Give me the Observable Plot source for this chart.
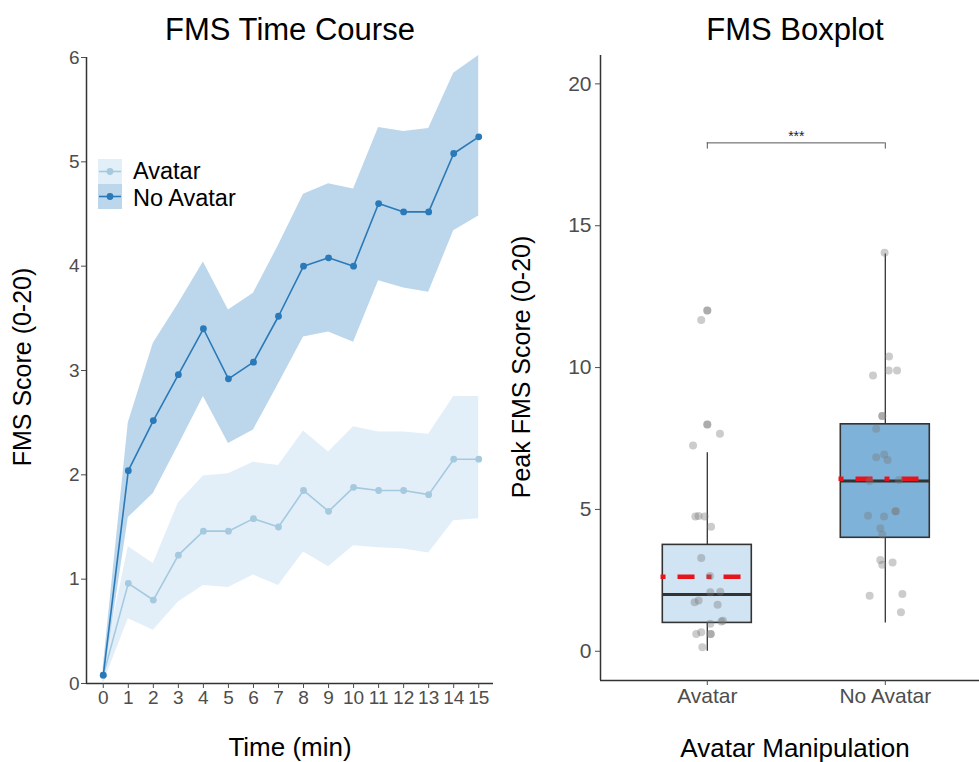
<!DOCTYPE html>
<html>
<head>
<meta charset="utf-8">
<script src="https://cdn.jsdelivr.net/npm/d3@7"></script>
<script src="https://cdn.jsdelivr.net/npm/@observablehq/plot@0.6"></script>
<style>
  body { margin: 0; background: #fff; font-family: "Liberation Sans", Arial, sans-serif; }
  #wrap { position: relative; width: 979px; height: 762px; overflow: hidden; background: #fff; }
  .abs { position: absolute; white-space: nowrap; line-height: 1; color: #000; }
  .ctr { transform: translateX(-50%); }
  .rot { transform: translate(-50%, -50%) rotate(-90deg); }
  #left, #right { position: absolute; top: 0; }
  #left { left: 0; }
  #right { left: 500px; }
  .sw { position: absolute; }
</style>
</head>
<body>
<div id="wrap">
  <div id="left"></div>
  <div id="right"></div>
</div>
<script>
// ---------------- Data: FMS time course ----------------
const timeMin = [0,1,2,3,4,5,6,7,8,9,10,11,12,13,14,15];
const avatarMean  = [0.08,0.96,0.80,1.23,1.46,1.46,1.58,1.50,1.85,1.65,1.88,1.85,1.85,1.81,2.15,2.15];
const avatarLower = [0.00,0.62,0.51,0.78,0.94,0.92,1.04,0.94,1.26,1.12,1.32,1.30,1.29,1.25,1.56,1.58];
const avatarUpper = [0.16,1.31,1.15,1.73,1.99,2.01,2.12,2.09,2.42,2.22,2.46,2.41,2.41,2.39,2.75,2.75];
const noAvatarMean  = [0.08,2.04,2.52,2.96,3.40,2.92,3.08,3.52,4.00,4.08,4.00,4.60,4.52,4.52,5.08,5.24];
const noAvatarLower = [0.00,1.59,1.82,2.28,2.75,2.30,2.43,2.87,3.32,3.37,3.27,3.86,3.79,3.75,4.34,4.48];
const noAvatarUpper = [0.16,2.50,3.26,3.64,4.04,3.58,3.74,4.20,4.69,4.79,4.74,5.33,5.29,5.32,5.85,6.02];
const timeTicks = [0,1,2,3,4,5,6,7,8,9,10,11,12,13,14,15];
const scoreTicks = [0,1,2,3,4,5,6];
const seriesNames = ["Avatar", "No Avatar"];

// ---------------- Data: FMS boxplot ----------------
const groups = ["Avatar", "No Avatar"];
const boxLow    = [0, 1];      // lower whisker
const boxQ1     = [1, 4];
const boxMedian = [2, 6];
const boxQ3     = [3.75, 8];
const boxHigh   = [7, 14];     // upper whisker
const boxMean   = [2.63, 6.08];
const peakTicks = [0, 5, 10, 15, 20];
// individual (jittered) points: value and horizontal jitter
const avatarPeak   = [12.01,12.01,11.68,7.99,7.99,7.67,7.25,4.75,4.77,4.75,4.39,3.29,2.65,2.08,2.10,1.73,1.79,1.64,1.08,1.05,0.97,0.61,0.67,0.61,0.61,0.14];
const avatarJitter = [0.000,0.000,-0.034,0.000,0.000,0.071,-0.080,-0.067,-0.049,-0.015,0.021,-0.034,0.015,0.017,0.073,-0.071,-0.049,0.058,0.088,0.079,0.017,-0.062,-0.034,0.019,0.019,-0.028];
const noAvatarPeak   = [14.05,10.39,9.90,9.90,9.72,8.29,8.29,7.84,6.84,6.94,6.74,6.00,6.04,4.78,4.75,4.94,4.94,4.34,4.12,3.22,3.05,3.13,1.96,2.02,1.38];
const noAvatarJitter = [-0.004,0.021,0.019,0.066,-0.069,-0.017,-0.017,-0.051,-0.051,-0.006,0.013,-0.088,0.077,-0.097,-0.007,0.058,0.058,-0.028,-0.017,-0.028,-0.017,0.041,-0.088,0.096,0.088];
const bracketY = 17.92;
const bracketTick = 17.7;
const sigLabel = "***";

// ---------------- Styles ----------------
const colLine = { "Avatar": "#a5c9de", "No Avatar": "#2a79b8" };
const colBand = { "Avatar": "#e2eff9", "No Avatar": "#bcd7ec" };
const boxFill = ["#d0e4f3", "#7fb2d9"];
const ink = "#333333";
const tickText = "#4d4d4d";

// ---------------- Left: time course ----------------
const tc = [];
timeMin.forEach((t, i) => {
  tc.push({series: "Avatar", t, mean: avatarMean[i], lo: avatarLower[i], hi: avatarUpper[i]});
});
timeMin.forEach((t, i) => {
  tc.push({series: "No Avatar", t, mean: noAvatarMean[i], lo: noAvatarLower[i], hi: noAvatarUpper[i]});
});
const av = tc.filter(d => d.series === "Avatar");
const na = tc.filter(d => d.series === "No Avatar");
const xDom = [-0.67, 15.59];

const left = Plot.plot({
  width: 500, height: 762,
  marginLeft: 86, marginRight: 7, marginTop: 57, marginBottom: 79,
  style: { fontFamily: "Liberation Sans, Arial, sans-serif", background: "transparent" },
  x: { domain: xDom },
  y: { domain: [0, 6] },
  marks: [
    Plot.areaY(av, { x: "t", y1: "lo", y2: "hi", fill: colBand["Avatar"] }),
    Plot.areaY(na, { x: "t", y1: "lo", y2: "hi", fill: colBand["No Avatar"] }),
    Plot.line(av, { x: "t", y: "mean", stroke: colLine["Avatar"], strokeWidth: 1.6 }),
    Plot.dot(av, { x: "t", y: "mean", fill: colLine["Avatar"], r: 3.4 }),
    Plot.line(na, { x: "t", y: "mean", stroke: colLine["No Avatar"], strokeWidth: 1.6 }),
    Plot.dot(na, { x: "t", y: "mean", fill: colLine["No Avatar"], r: 3.4 }),
    Plot.ruleX([xDom[0]], { stroke: ink, strokeWidth: 1.5 }),
    Plot.ruleY([0], { stroke: ink, strokeWidth: 1.5 }),
    Plot.axisY({ ticks: scoreTicks, tickSize: 5, tickPadding: 2, fontSize: 19, color: tickText, label: null, tickFormat: d => String(d) }),
    Plot.axisX({ ticks: timeTicks, tickSize: 5, tickPadding: 2, fontSize: 19, color: tickText, label: null, tickFormat: d => String(d) })
  ]
});
document.getElementById("left").appendChild(left);

// ---------------- Right: boxplot ----------------
const boxes = groups.map((g, i) => ({
  g, xi: i + 1, low: boxLow[i], q1: boxQ1[i], med: boxMedian[i], q3: boxQ3[i], high: boxHigh[i], mean: boxMean[i], fill: boxFill[i]
}));
const pts = [
  ...avatarPeak.map((v, k) => ({ x: 1 + avatarJitter[k], y: v })),
  ...noAvatarPeak.map((v, k) => ({ x: 2 + noAvatarJitter[k], y: v }))
];
const halfBox = 0.25;
const xDomR = [0.4, 2.6];
const yDomR = [-1.03, 21.0];

const right = Plot.plot({
  width: 479, height: 762,
  marginLeft: 100, marginRight: 0, marginTop: 55, marginBottom: 82,
  style: { fontFamily: "Liberation Sans, Arial, sans-serif", background: "transparent" },
  x: { domain: xDomR, range: [100, 491.6] },
  y: { domain: yDomR },
  marks: [
    // whiskers
    Plot.ruleX(boxes, { x: "xi", y1: "q3", y2: "high", stroke: ink, strokeWidth: 1.3 }),
    Plot.ruleX(boxes, { x: "xi", y1: "low", y2: "q1", stroke: ink, strokeWidth: 1.3 }),
    // boxes
    Plot.rect(boxes, { x1: d => d.xi - halfBox, x2: d => d.xi + halfBox, y1: "q1", y2: "q3", fill: "fill", stroke: ink, strokeWidth: 1.6 }),
    // median
    Plot.ruleY(boxes, { x1: d => d.xi - halfBox, x2: d => d.xi + halfBox, y: "med", stroke: ink, strokeWidth: 3 }),
    // mean (red dashed)
    Plot.ruleY(boxes, { x1: d => d.xi - halfBox - 0.01, x2: d => d.xi + halfBox, y: "mean", stroke: "#e8141c", strokeWidth: 4.5, strokeDasharray: "5,12,17,12" }),
    // jittered points
    Plot.dot(pts, { x: "x", y: "y", r: 4, fill: "#7a7a7a", fillOpacity: 0.38 }),
    // significance bracket
    Plot.ruleY([bracketY], { x1: 1, x2: 2, stroke: "#555", strokeWidth: 1 }),
    Plot.ruleX([1, 2], { y1: bracketTick, y2: bracketY, stroke: "#555", strokeWidth: 1 }),
    Plot.text([sigLabel], { x: 1.5, y: bracketY, text: d => d, dy: -6, fontSize: 14, fill: "#222" }),
    // axes
    Plot.ruleX([xDomR[0]], { stroke: ink, strokeWidth: 1.5 }),
    Plot.ruleY([yDomR[0]], { stroke: ink, strokeWidth: 1.5 }),
    Plot.axisY({ ticks: peakTicks, tickSize: 5, tickPadding: 4, fontSize: 21, color: tickText, label: null, tickFormat: d => String(d) }),
    Plot.axisX({ ticks: [1, 2], tickSize: 5, tickPadding: 3, fontSize: 21, color: tickText, label: null, tickFormat: d => groups[d - 1] })
  ]
});
document.getElementById("right").appendChild(right);

// ---------------- Titles, axis titles, legend (HTML around the SVGs) ----------------
const wrap = document.getElementById("wrap");
function addText(txt, css, cls) {
  const el = document.createElement("div");
  el.className = "abs " + (cls || "");
  el.textContent = txt;
  Object.assign(el.style, css);
  wrap.appendChild(el);
  return el;
}
addText("FMS Time Course", { left: "290px", top: "14px", fontSize: "31px" }, "ctr");
addText("FMS Boxplot", { left: "795px", top: "14px", fontSize: "31px" }, "ctr");
addText("Time (min)", { left: "290px", top: "735px", fontSize: "26px", lineHeight: "25px" }, "ctr");
addText("Avatar Manipulation", { left: "795px", top: "736px", fontSize: "26px", lineHeight: "25px" }, "ctr");
addText("FMS Score (0-20)", { left: "22px", top: "367px", fontSize: "25px" }, "rot");
addText("Peak FMS Score (0-20)", { left: "521px", top: "367px", fontSize: "25px" }, "rot");

// legend
seriesNames.forEach((s, i) => {
  const top = 159 + i * 25;
  const sw = document.createElementNS("http://www.w3.org/2000/svg", "svg");
  sw.setAttribute("width", 24); sw.setAttribute("height", 25);
  sw.setAttribute("class", "sw");
  sw.style.left = "98px"; sw.style.top = top + "px";
  sw.innerHTML = `<rect x="0" y="0" width="24" height="25" fill="${colBand[s]}"/>
    <line x1="1" x2="23" y1="12.5" y2="12.5" stroke="${colLine[s]}" stroke-width="1.6"/>
    <circle cx="12" cy="12.5" r="3.4" fill="${colLine[s]}"/>`;
  wrap.appendChild(sw);
  addText(s, { left: "133px", top: (160.4 + i * 26.6) + "px", fontSize: "23.5px", lineHeight: "23px" });
});
</script>
</body>
</html>
